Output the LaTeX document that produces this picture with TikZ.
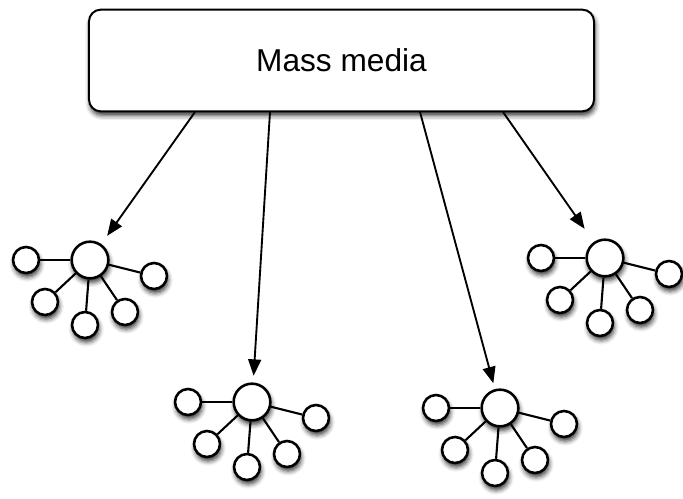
\documentclass[tikz,border=0pt]{standalone}
\usepackage{fontspec}
\setsansfont{Liberation Sans}
\usetikzlibrary{arrows.meta}
\usetikzlibrary{shadows.blur}

\begin{document}
\begin{tikzpicture}[x=0.03cm,y=-0.03cm,
	media/.style={draw, line width=1.7pt, rounded corners=10pt, fill=white, minimum width=15.15cm, minimum height=3.05cm, font=\sffamily\fontsize{27}{32}\selectfont, blur shadow={shadow xshift=1pt, shadow yshift=-3.5pt, shadow blur radius=4pt, shadow opacity=80}},
	hub/.style={circle, draw, line width=2.2pt, fill=white, minimum size=1.1cm, inner sep=0pt, blur shadow={shadow xshift=1pt, shadow yshift=-3.5pt, shadow blur radius=4pt, shadow opacity=80}},
	leaf/.style={circle, draw, line width=2.2pt, fill=white, minimum size=0.78cm, inner sep=0pt, blur shadow={shadow xshift=1pt, shadow yshift=-3.5pt, shadow blur radius=4pt, shadow opacity=80}},
	spoke/.style={line width=1.8pt},
	feed/.style={line width=1.6pt, -{Triangle[length=14pt, width=11pt]}}]

	\useasboundingbox (0,0) rectangle (683,498);

	\node[media] (media) at (341.5,60.5) {Mass media};

	% the four audience clusters
	\foreach \n/\x/\y in {1/90/260, 2/252/402, 3/500/408, 4/605/258}{
		\node[hub] (hub\n) at (\x,\y) {};
		\foreach \k/\dx/\dy in {a/-64/0, b/-45/42, c/-5/65, d/35/52, e/64/16}{
			\node[leaf] (hub\n-\k) at (\x+\dx,\y+\dy) {};
			\draw[spoke] (hub\n) -- (hub\n-\k);
		}
	}

	\coordinate (s1) at (195,112);
	\coordinate (s2) at (270,112);
	\coordinate (s3) at (420,112);
	\coordinate (s4) at (503,112);

	\draw[feed, shorten >=0.3cm] (s1) -- (hub1);
	\draw[feed, shorten >=0.2cm] (s2) -- (hub2);
	\draw[feed, shorten >=0.18cm] (s3) -- (hub3);
	\draw[feed, shorten >=0.48cm] (s4) -- (hub4);
\end{tikzpicture}
\end{document}
